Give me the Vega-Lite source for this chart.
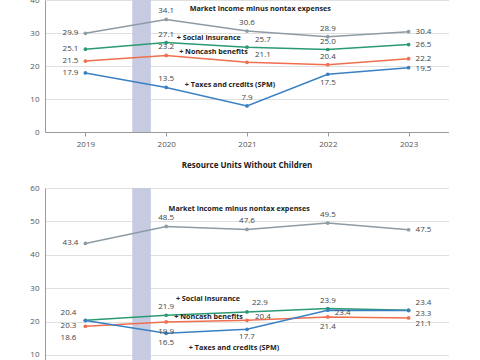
{
  "$schema": "https://vega.github.io/schema/vega-lite/v6.json",
  "padding": {"top": -4, "left": 29, "right": 0, "bottom": 0},
  "spacing": 14,
  "config": {
    "font": "Open Sans",
    "view": {"stroke": null},
    "axis": {"labelFont": "Open Sans", "labelFontSize": 8, "labelColor": "#555", "domainColor": "#9a9a9a", "tickColor": "#9a9a9a", "title": null, "gridColor": "#e0e0e0", "labelOverlap": false},
    "title": {"font": "Open Sans", "fontSize": 8, "fontWeight": "bold", "color": "#222"}
  },
  "datasets": {
    "vals": [
      {"p": "A", "m": "Market", "year": 2019, "v": 29.9},
      {"p": "A", "m": "Market", "year": 2020, "v": 34.1},
      {"p": "A", "m": "Market", "year": 2021, "v": 30.6},
      {"p": "A", "m": "Market", "year": 2022, "v": 28.9},
      {"p": "A", "m": "Market", "year": 2023, "v": 30.4},
      {"p": "A", "m": "Social", "year": 2019, "v": 25.1},
      {"p": "A", "m": "Social", "year": 2020, "v": 27.1},
      {"p": "A", "m": "Social", "year": 2021, "v": 25.7},
      {"p": "A", "m": "Social", "year": 2022, "v": 25.0},
      {"p": "A", "m": "Social", "year": 2023, "v": 26.5},
      {"p": "A", "m": "Noncash", "year": 2019, "v": 21.5},
      {"p": "A", "m": "Noncash", "year": 2020, "v": 23.2},
      {"p": "A", "m": "Noncash", "year": 2021, "v": 21.1},
      {"p": "A", "m": "Noncash", "year": 2022, "v": 20.4},
      {"p": "A", "m": "Noncash", "year": 2023, "v": 22.2},
      {"p": "A", "m": "SPM", "year": 2019, "v": 17.9},
      {"p": "A", "m": "SPM", "year": 2020, "v": 13.5},
      {"p": "A", "m": "SPM", "year": 2021, "v": 7.9},
      {"p": "A", "m": "SPM", "year": 2022, "v": 17.5},
      {"p": "A", "m": "SPM", "year": 2023, "v": 19.5},
      {"p": "B", "m": "Market", "year": 2019, "v": 43.4},
      {"p": "B", "m": "Market", "year": 2020, "v": 48.5},
      {"p": "B", "m": "Market", "year": 2021, "v": 47.6},
      {"p": "B", "m": "Market", "year": 2022, "v": 49.5},
      {"p": "B", "m": "Market", "year": 2023, "v": 47.5},
      {"p": "B", "m": "Social", "year": 2019, "v": 20.4},
      {"p": "B", "m": "Social", "year": 2020, "v": 21.9},
      {"p": "B", "m": "Social", "year": 2021, "v": 22.9},
      {"p": "B", "m": "Social", "year": 2022, "v": 23.9},
      {"p": "B", "m": "Social", "year": 2023, "v": 23.4},
      {"p": "B", "m": "Noncash", "year": 2019, "v": 18.6},
      {"p": "B", "m": "Noncash", "year": 2020, "v": 19.9},
      {"p": "B", "m": "Noncash", "year": 2021, "v": 20.4},
      {"p": "B", "m": "Noncash", "year": 2022, "v": 21.4},
      {"p": "B", "m": "Noncash", "year": 2023, "v": 21.1},
      {"p": "B", "m": "SPM", "year": 2019, "v": 20.3},
      {"p": "B", "m": "SPM", "year": 2020, "v": 16.5},
      {"p": "B", "m": "SPM", "year": 2021, "v": 17.7},
      {"p": "B", "m": "SPM", "year": 2022, "v": 23.4},
      {"p": "B", "m": "SPM", "year": 2023, "v": 23.3}
    ],
    "notes": [
      {"p": "A", "t": "Market income minus nontax expenses", "x": 2020.29, "y": 37.3},
      {"p": "A", "t": "+ Social insurance", "x": 2020.13, "y": 28.5},
      {"p": "A", "t": "+ Noncash benefits", "x": 2020.16, "y": 24.2},
      {"p": "A", "t": "+ Taxes and credits (SPM)", "x": 2020.23, "y": 14.2},
      {"p": "B", "t": "Market income minus nontax expenses", "x": 2020.03, "y": 53.8},
      {"p": "B", "t": "+ Social insurance", "x": 2020.12, "y": 26.7},
      {"p": "B", "t": "+ Noncash benefits", "x": 2020.1, "y": 21.3},
      {"p": "B", "t": "+ Taxes and credits (SPM)", "x": 2020.28, "y": 12.1}
    ],
    "band": [{"s": 2019.58, "e": 2019.81}]
  },
  "vconcat": [
    {
      "width": 404,
      "height": 132,
      "layer": [
        {
          "data": {"name": "band"},
          "mark": {"type": "rect", "color": "#c6cbe2"},
          "encoding": {
            "x": {"field": "s", "type": "quantitative", "scale": {"domain": [2018.5, 2023.5], "nice": false}, "axis": {"values": [2019, 2020, 2021, 2022, 2023], "format": "d", "grid": false, "tickSize": 4, "labelPadding": 4}},
            "x2": {"field": "e"}
          }
        },
        {
          "data": {"name": "vals"},
          "transform": [{"filter": "datum.p=='A'"}],
          "encoding": {
            "x": {"field": "year", "type": "quantitative", "scale": {"domain": [2018.5, 2023.5], "nice": false}, "axis": {"values": [2019, 2020, 2021, 2022, 2023], "format": "d", "grid": false, "tickSize": 4, "labelPadding": 4}},
            "y": {"field": "v", "type": "quantitative", "scale": {"domain": [0, 40], "nice": false}, "axis": {"values": [0, 10, 20, 30, 40], "ticks": false, "labelPadding": 6, "grid": true}}
          },
          "layer": [
            {"mark": {"type": "line", "strokeWidth": 1.5}, "encoding": {"color": {"field": "m", "type": "nominal", "scale": {"domain": ["Market", "Social", "Noncash", "SPM"], "range": ["#8d9ba5", "#2a9a72", "#ef6f4f", "#3a80c2"]}, "legend": null}}},
            {"mark": {"type": "point", "filled": true, "size": 14, "opacity": 1}, "encoding": {"color": {"field": "m", "type": "nominal", "legend": null}}},
            {"transform": [{"filter": "datum.year==2019"}], "mark": {"type": "text", "align": "right", "dx": -7, "fontSize": 8, "color": "#444"}, "encoding": {"text": {"field": "v", "format": ".1f"}}},
            {"transform": [{"filter": "datum.year==2023 && datum.m!='SPM'"}], "mark": {"type": "text", "align": "left", "dx": 7, "fontSize": 8, "color": "#444"}, "encoding": {"text": {"field": "v", "format": ".1f"}}},
            {"transform": [{"filter": "datum.year==2023 && datum.m=='SPM'"}], "mark": {"type": "text", "align": "left", "dx": 7, "dy": 1, "fontSize": 8, "color": "#444"}, "encoding": {"text": {"field": "v", "format": ".1f"}}},
            {"transform": [{"filter": "indexof(['Market|2020','Market|2021','Market|2022','Social|2020','Social|2022','Noncash|2020','Noncash|2022','SPM|2020','SPM|2021'], datum.m+'|'+datum.year)>=0"}], "mark": {"type": "text", "dy": -8, "fontSize": 8, "color": "#444"}, "encoding": {"text": {"field": "v", "format": ".1f"}}},
            {"transform": [{"filter": "indexof(['Social|2021','Noncash|2021'], datum.m+'|'+datum.year)>=0"}], "mark": {"type": "text", "align": "left", "dx": 8, "dy": -7, "fontSize": 8, "color": "#444"}, "encoding": {"text": {"field": "v", "format": ".1f"}}},
            {"transform": [{"filter": "indexof(['SPM|2022'], datum.m+'|'+datum.year)>=0"}], "mark": {"type": "text", "dy": 9, "fontSize": 8, "color": "#444"}, "encoding": {"text": {"field": "v", "format": ".1f"}}}
          ]
        },
        {
          "data": {"name": "notes"},
          "transform": [{"filter": "datum.p=='A'"}],
          "mark": {"type": "text", "align": "left", "fontSize": 7.2, "fontWeight": "bold", "color": "#222"},
          "encoding": {
            "x": {"field": "x", "type": "quantitative", "axis": {"values": [2019, 2020, 2021, 2022, 2023], "format": "d", "grid": false, "tickSize": 4, "labelPadding": 4}},
            "y": {"field": "y", "type": "quantitative", "axis": {"values": [0, 10, 20, 30, 40], "ticks": false, "labelPadding": 6, "grid": true}},
            "text": {"field": "t"}
          }
        }
      ]
    },
    {
      "width": 404,
      "height": 172,
      "title": {"text": "Resource Units Without Children", "offset": 14},
      "layer": [
        {
          "data": {"name": "band"},
          "mark": {"type": "rect", "color": "#c6cbe2"},
          "encoding": {
            "x": {"field": "s", "type": "quantitative", "scale": {"domain": [2018.5, 2023.5], "nice": false}, "axis": null},
            "x2": {"field": "e"}
          }
        },
        {
          "data": {"name": "vals"},
          "transform": [{"filter": "datum.p=='B'"}],
          "encoding": {
            "x": {"field": "year", "type": "quantitative", "scale": {"domain": [2018.5, 2023.5], "nice": false}, "axis": null},
            "y": {"field": "v", "type": "quantitative", "scale": {"domain": [8.5, 60], "nice": false}, "axis": {"values": [10, 20, 30, 40, 50, 60], "ticks": false, "labelPadding": 6, "grid": true}}
          },
          "layer": [
            {"mark": {"type": "line", "strokeWidth": 1.5}, "encoding": {"color": {"field": "m", "type": "nominal", "scale": {"domain": ["Market", "Social", "Noncash", "SPM"], "range": ["#8d9ba5", "#2a9a72", "#ef6f4f", "#3a80c2"]}, "legend": null}}},
            {"mark": {"type": "point", "filled": true, "size": 14, "opacity": 1}, "encoding": {"color": {"field": "m", "type": "nominal", "legend": null}}},
            {"transform": [{"filter": "datum.m+'|'+datum.year=='Market|2019'"}], "mark": {"type": "text", "align": "right", "dx": -7, "fontSize": 8, "color": "#444"}, "encoding": {"text": {"field": "v", "format": ".1f"}}},
            {"transform": [{"filter": "datum.m+'|'+datum.year=='Social|2019'"}], "mark": {"type": "text", "align": "right", "dx": -9, "dy": -7, "fontSize": 8, "color": "#444"}, "encoding": {"text": {"field": "v", "format": ".1f"}}},
            {"transform": [{"filter": "datum.m+'|'+datum.year=='SPM|2019'"}], "mark": {"type": "text", "align": "right", "dx": -9, "dy": 5, "fontSize": 8, "color": "#444"}, "encoding": {"text": {"field": "v", "format": ".1f"}}},
            {"transform": [{"filter": "datum.m+'|'+datum.year=='Noncash|2019'"}], "mark": {"type": "text", "align": "right", "dx": -9, "dy": 12, "fontSize": 8, "color": "#444"}, "encoding": {"text": {"field": "v", "format": ".1f"}}},
            {"transform": [{"filter": "indexof(['Market|2020','Market|2021','Market|2022','Social|2020','Social|2022'], datum.m+'|'+datum.year)>=0"}], "mark": {"type": "text", "dy": -8, "fontSize": 8, "color": "#444"}, "encoding": {"text": {"field": "v", "format": ".1f"}}},
            {"transform": [{"filter": "indexof(['SPM|2020','Noncash|2020','Noncash|2022'], datum.m+'|'+datum.year)>=0"}], "mark": {"type": "text", "dy": 10, "fontSize": 8, "color": "#444"}, "encoding": {"text": {"field": "v", "format": ".1f"}}},
            {"transform": [{"filter": "datum.m+'|'+datum.year=='SPM|2021'"}], "mark": {"type": "text", "dy": 8, "fontSize": 8, "color": "#444"}, "encoding": {"text": {"field": "v", "format": ".1f"}}},
            {"transform": [{"filter": "datum.m+'|'+datum.year=='Social|2021'"}], "mark": {"type": "text", "align": "left", "dx": 5, "dy": -9, "fontSize": 8, "color": "#444"}, "encoding": {"text": {"field": "v", "format": ".1f"}}},
            {"transform": [{"filter": "datum.m+'|'+datum.year=='Noncash|2021'"}], "mark": {"type": "text", "align": "left", "dx": 8, "dy": -3, "fontSize": 8, "color": "#444"}, "encoding": {"text": {"field": "v", "format": ".1f"}}},
            {"transform": [{"filter": "datum.m+'|'+datum.year=='Market|2023'"}], "mark": {"type": "text", "align": "left", "dx": 7, "fontSize": 8, "color": "#444"}, "encoding": {"text": {"field": "v", "format": ".1f"}}},
            {"transform": [{"filter": "datum.m+'|'+datum.year=='Social|2023'"}], "mark": {"type": "text", "align": "left", "dx": 7, "dy": -7, "fontSize": 8, "color": "#444"}, "encoding": {"text": {"field": "v", "format": ".1f"}}},
            {"transform": [{"filter": "indexof(['SPM|2023','SPM|2022'], datum.m+'|'+datum.year)>=0"}], "mark": {"type": "text", "align": "left", "dx": 7, "dy": 3, "fontSize": 8, "color": "#444"}, "encoding": {"text": {"field": "v", "format": ".1f"}}},
            {"transform": [{"filter": "datum.m+'|'+datum.year=='Noncash|2023'"}], "mark": {"type": "text", "align": "left", "dx": 7, "dy": 6, "fontSize": 8, "color": "#444"}, "encoding": {"text": {"field": "v", "format": ".1f"}}}
          ]
        },
        {
          "data": {"name": "notes"},
          "transform": [{"filter": "datum.p=='B'"}],
          "mark": {"type": "text", "align": "left", "fontSize": 7.2, "fontWeight": "bold", "color": "#222"},
          "encoding": {
            "x": {"field": "x", "type": "quantitative", "axis": null},
            "y": {"field": "y", "type": "quantitative", "axis": {"values": [10, 20, 30, 40, 50, 60], "ticks": false, "labelPadding": 6, "grid": true}},
            "text": {"field": "t"}
          }
        }
      ]
    }
  ]
}
